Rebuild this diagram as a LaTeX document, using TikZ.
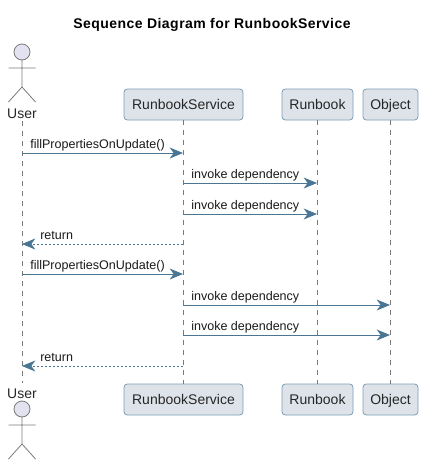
\documentclass[tikz,border=0pt]{standalone}
\usepackage{fontspec}
\setmainfont{Liberation Sans}
\usetikzlibrary{arrows.meta}
\definecolor{boxfill}{HTML}{DEE3EA}
\definecolor{boxline}{HTML}{7C9DB5}
\definecolor{msgline}{HTML}{4A7695}
\definecolor{actfill}{HTML}{E2E2F0}
\definecolor{lifeline}{HTML}{7A7A7A}
\tikzset{
  partbox/.style={draw=boxline,fill=boxfill,rounded corners=2.5pt,line width=0.6pt,minimum height=23.25pt,inner sep=0pt,text depth=0pt,font=\fontsize{10.5}{12}\selectfont,text=black!85},
  life/.style={draw=lifeline,line width=0.5pt,dash pattern=on 3.75pt off 3.75pt},
  msg/.style={draw=msgline,line width=0.75pt,-{Stealth[length=10pt,width=8.25pt,inset=3pt]}},
  ret/.style={msg,dash pattern=on 1.5pt off 1.5pt,line width=0.6pt},
  msglab/.style={font=\fontsize{9.4}{11}\selectfont,text=black!90,anchor=base west,inner sep=0pt},
  actorline/.style={draw=lifeline,line width=0.6pt}
}
\newcommand{\actorfig}[2]{% x, y of head centre
  \draw[actorline,fill=actfill] (#1,#2) circle (6pt);
  \draw[actorline] (#1,#2+8)--(#1,#2+35) (#1-13.5,#2+16)--(#1+13.5,#2+16)
    (#1-13.5,#2+50)--(#1,#2+35)--(#1+13.5,#2+50);
}
\begin{document}
\begin{tikzpicture}[x=0.75pt,y=-0.75pt]
  \useasboundingbox (0,0) rectangle (423,465);
  \node[font=\bfseries\fontsize{10.5}{12}\selectfont,inner sep=0pt] (title) at (212,25) {\addfontfeature{LetterSpace=3.3}Sequence Diagram for RunbookService};
  % participants
  \foreach \nm/\x/\w/\lab in {svc/183.5/119/RunbookService,rb/317.5/71/Runbook,obj/390.5/55/Object} {
    \node[partbox,minimum width=\w*0.75pt] (\nm top) at (\x,104.5) {\lab};
    \node[partbox,minimum width=\w*0.75pt] (\nm bot) at (\x,399.5) {\lab};
  }
  \node[inner sep=0pt,font=\fontsize{10.5}{12}\selectfont,text=black!85] (usr top) at (22,114) {User};
  \node[inner sep=0pt,font=\fontsize{10.5}{12}\selectfont,text=black!85] (usr bot) at (22,394) {User};
  \actorfig{22}{52}
  \actorfig{22}{409}
  % lifelines
  \foreach \nm in {svc,rb,obj}
    \draw[life] (\nm top)--(\nm bot);
  \draw[life] (22,121)--(22,383);
  % messages
  \foreach \nm/\x in {usr/22,svc/183,rb/317,obj/390}
    \foreach \y in {153,183,214,244,274,305,335,366}
      \coordinate (\nm\y) at (\x,\y);
  \foreach \a/\b/\y/\lab in {usr/svc/153/fillPropertiesOnUpdate(),svc/rb/183/invoke dependency,svc/rb/214/invoke dependency,usr/svc/274/fillPropertiesOnUpdate(),svc/obj/305/invoke dependency,svc/obj/335/invoke dependency} {
    \draw[msg] (\a\y)--(\b\y);
    \path (\a\y) ++(8,-5) node[msglab] (m\y) {\lab};
  }
  \foreach \y in {244,366} {
    \draw[ret] (svc\y)--(usr\y);
    \path (usr\y) ++(18,-5) node[msglab] (m\y) {return};
  }
\end{tikzpicture}
\end{document}
